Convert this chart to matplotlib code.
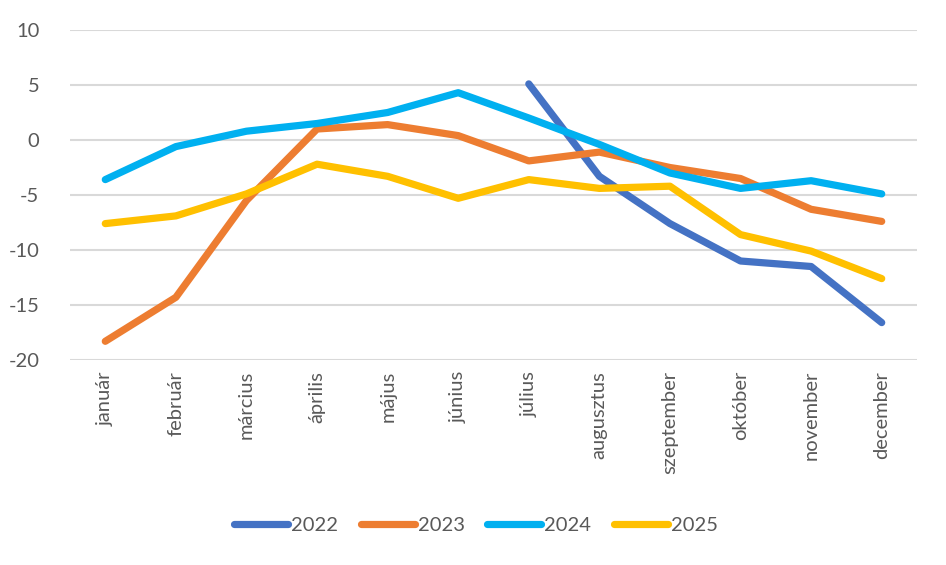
import matplotlib.pyplot as plt
import numpy as np

# adatok
honapok = ["január", "február", "március", "április", "május", "június",
           "július", "augusztus", "szeptember", "október", "november", "december"]
y2022 = [None, None, None, None, None, None, 5.1, -3.3, -7.6, -11.0, -11.5, -16.6]
y2023 = [-18.3, -14.3, -5.5, 1.0, 1.4, 0.4, -1.9, -1.1, -2.5, -3.5, -6.3, -7.4]
y2024 = [-3.6, -0.6, 0.8, 1.5, 2.5, 4.3, 2.0, -0.4, -3.0, -4.4, -3.7, -4.9]
y2025 = [-7.6, -6.9, -4.9, -2.2, -3.3, -5.3, -3.6, -4.4, -4.2, -8.6, -10.1, -12.6]

series = [("2022", y2022, "#4472C4"), ("2023", y2023, "#ED7D31"),
          ("2024", y2024, "#00B0F0"), ("2025", y2025, "#FFC000")]

plt.rcParams['font.family'] = ['Lato', 'DejaVu Sans']
plt.rcParams['axes.unicode_minus'] = False

fig = plt.figure(figsize=(9.46, 5.65), dpi=100)
ax = fig.add_axes([70 / 946, 205 / 565, 847 / 946, 330 / 565])

x = np.arange(len(honapok))
for name, vals, color in series:
    v = np.array([np.nan if a is None else a for a in vals], dtype=float)
    ax.plot(x, v, color=color, lw=5.2, label=name,
            solid_capstyle="round", solid_joinstyle="round")

ax.set_xlim(-0.5, len(honapok) - 0.5)
ax.set_ylim(-20, 10)
ax.set_yticks(range(-20, 11, 5))
ax.set_xticks(x)
ax.set_xticklabels(honapok, rotation=90, va="top", ha="center")
ax.tick_params(axis="both", length=0, labelsize=14.5, colors="#595959")
ax.tick_params(axis="y", pad=22)
ax.tick_params(axis="x", pad=8)
ax.grid(axis="y", color="#D9D9D9", lw=1.5)
ax.set_axisbelow(True)
for s in ax.spines.values():
    s.set_visible(False)

leg = fig.legend(loc="center", bbox_to_anchor=(476 / 946, 1 - 525 / 565), ncol=4,
                 frameon=False, fontsize=14.5, handlelength=2.7, handletextpad=0.15,
                 columnspacing=1.1)
for t in leg.get_texts():
    t.set_color("#595959")

plt.savefig("out.png", dpi=100, facecolor="white")
